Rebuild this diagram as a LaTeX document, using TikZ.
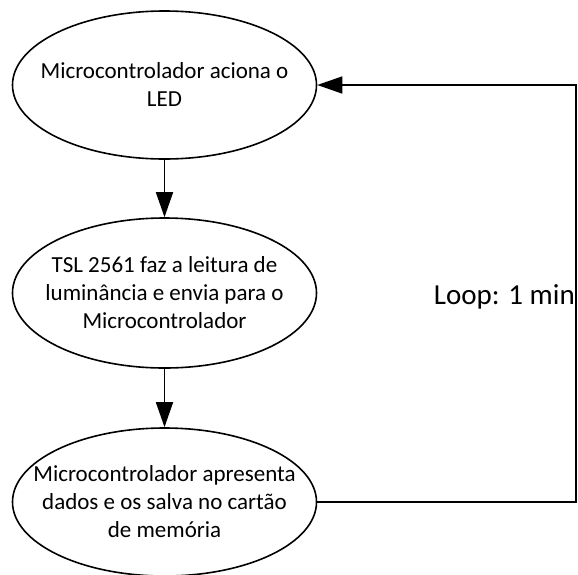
\documentclass[tikz,border=0pt]{standalone}
\usepackage{fontspec}
\setmainfont{Carlito}
\usetikzlibrary{shapes.geometric,arrows.meta}
\begin{document}
\begin{tikzpicture}[x=1pt,y=-1pt,
  stage/.style={draw,line width=1.6pt,ellipse,minimum width=304pt,minimum height=148pt,
    inner xsep=-30pt,inner ysep=0pt,
    align=center,font=\fontsize{23}{28}\selectfont},
  arr/.style={line width=1.6pt,-{Triangle[length=25pt,width=17pt]}}]
\useasboundingbox (0,0) rectangle (578,574);
\node[stage] (e1) at (164.5,85) {Microcontrolador aciona o\\LED};
\node[stage,minimum height=150pt] (e2) at (164.5,293) {TSL 2561 faz a leitura de\\luminância e envia para o\\Microcontrolador};
\node[stage] (e3) at (164.5,502) {Microcontrolador apresenta\\dados e os salva no cartão\\de memória};
\coordinate (c1) at (576,502);
\coordinate (c2) at (576,85);
\draw[arr] (e1.south) -- (e2.north);
\draw[arr] (e2.south) -- (e3.north);
\draw[arr] (e3.east) -- (c1) -- (c2) -- (e1.east);
\node[anchor=base east,inner sep=0pt,font=\fontsize{29}{34}\selectfont] (lp) at (575,304) {Loop: 1 min};
\end{tikzpicture}
\end{document}
